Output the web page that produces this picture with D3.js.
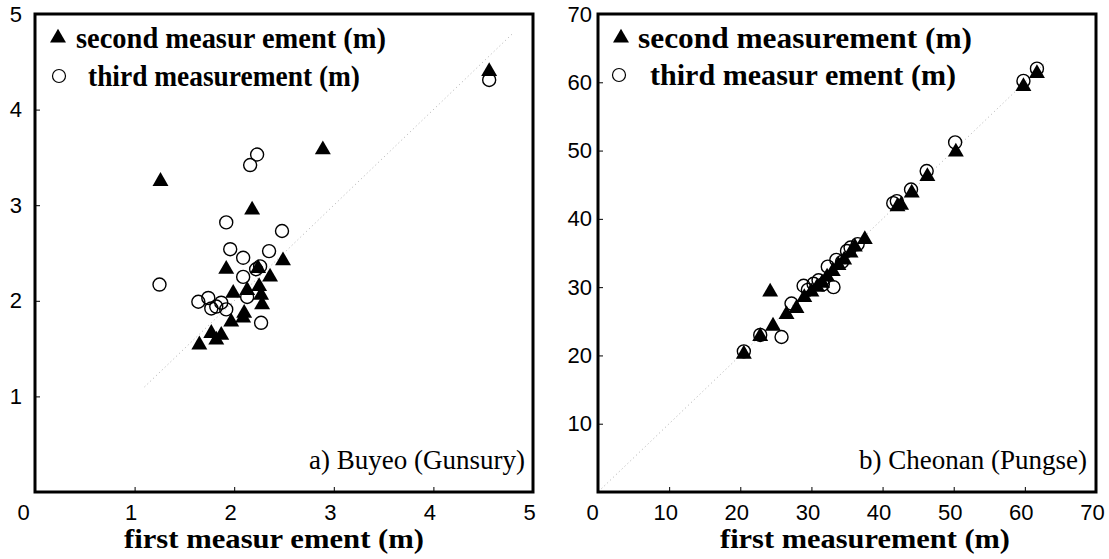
<!DOCTYPE html>
<html>
<head>
<meta charset="utf-8">
<script src="https://cdn.jsdelivr.net/npm/d3@7"></script>
<style>
body { margin: 0; background: #fff; }
</style>
</head>
<body>
<svg id="chart" width="1109" height="559"></svg>
<script>
// --- data ---
var buyeoTicks = [0, 1, 2, 3, 4, 5];
var cheonanTicks = [0, 10, 20, 30, 40, 50, 60, 70];

// a) Buyeo (Gunsury): [first, second] and [first, third]
var buyeoSecond = [
  [1.26, 3.25], [2.18, 2.95], [2.89, 3.58], [4.56, 4.40], [2.49, 2.42],
  [1.92, 2.33], [2.24, 2.34], [2.36, 2.25], [1.99, 2.08], [2.13, 2.11],
  [2.25, 2.15], [2.27, 2.06], [2.28, 1.96], [2.10, 1.87], [2.09, 1.82],
  [1.97, 1.78], [1.87, 1.64], [1.77, 1.66], [1.82, 1.59], [1.65, 1.54]
];
var buyeoThird = [
  [2.23, 3.53], [2.16, 3.42], [1.92, 2.82], [2.48, 2.73], [1.96, 2.54],
  [2.35, 2.52], [2.09, 2.45], [2.26, 2.36], [2.22, 2.33], [2.09, 2.25],
  [1.25, 2.17], [1.64, 1.99], [1.74, 2.03], [1.77, 1.92], [1.82, 1.94],
  [1.87, 1.98], [1.92, 1.91], [2.13, 2.04], [2.27, 1.77], [4.56, 4.31]
];

// b) Cheonan (Pungse)
var cheonanSecond = [
  [20.5, 20.2], [22.8, 22.8], [24.2, 29.3], [24.6, 24.3], [26.5, 26.0],
  [27.9, 26.9], [29.0, 28.5], [30.0, 29.3], [30.8, 30.0], [31.5, 30.6],
  [32.2, 31.5], [33.0, 32.3], [33.8, 33.2], [34.6, 34.0], [35.5, 35.0],
  [36.1, 35.9], [37.5, 37.0], [42.1, 41.8], [42.6, 42.0], [44.1, 43.8],
  [46.3, 46.2], [50.3, 49.8], [59.8, 59.4], [61.7, 61.3]
];
var cheonanThird = [
  [20.5, 20.6], [22.8, 23.0], [25.8, 22.7], [27.2, 27.6], [28.9, 30.2],
  [29.5, 29.6], [30.3, 30.5], [31.0, 31.0], [31.6, 30.4], [32.3, 33.0],
  [33.1, 30.0], [33.5, 34.0], [34.3, 33.7], [35.0, 35.3], [35.5, 35.8],
  [36.5, 36.3], [41.5, 42.3], [42.0, 42.6], [44.0, 44.3], [46.2, 47.0],
  [50.2, 51.2], [59.8, 60.2], [61.7, 62.0]
];

var svg = d3.select("#chart");
svg.append("rect").attr("width", 1109).attr("height", 559).attr("fill", "#fff");

var panels = [
  {
    ticks: buyeoTicks, max: 5, left: 35, right: 533, top: 14, bottom: 492,
    second: buyeoSecond, third: buyeoThird, diag: [1.1, 4.8],
    yPad: 13, zeroShift: -12,
    leg1: "second measur ement (m)", leg1X: 76, leg1W: 310,
    leg2: "third measurement (m)", leg2X: 88, leg2W: 272,
    legTri: [58, 38], legCirc: [59, 76],
    title: "first measur ement (m)", titleX: 124, titleW: 300,
    note: "a) Buyeo (Gunsury)", noteEnd: 525
  },
  {
    ticks: cheonanTicks, max: 70, left: 598, right: 1096, top: 14, bottom: 492,
    second: cheonanSecond, third: cheonanThird, diag: [0.5, 63],
    yPad: 6, zeroShift: -6,
    leg1: "second measurement (m)", leg1X: 638, leg1W: 334,
    leg2: "third measur ement (m)", leg2X: 650, leg2W: 306,
    legTri: [621, 38], legCirc: [619, 75],
    title: "first measurement (m)", titleX: 720, titleW: 290,
    note: "b) Cheonan (Pungse)", noteEnd: 1087
  }
];

var tri = d3.symbol().type(d3.symbolTriangle).size(110);
var serif = "'Liberation Serif', 'Times New Roman', serif";
var sans = "'Liberation Sans', Arial, sans-serif";

panels.forEach(function(p) {
  var x = d3.scaleLinear().domain([0, p.max]).range([p.left, p.right]);
  var y = d3.scaleLinear().domain([0, p.max]).range([p.bottom, p.top]);
  var g = svg.append("g");

  // bottom axis, short ticks pointing inwards
  var xa = g.append("g")
      .attr("transform", "translate(0," + p.bottom + ")")
      .call(d3.axisBottom(x).tickValues(p.ticks).tickFormat(d3.format("d"))
        .tickSizeInner(-5).tickSizeOuter(0).tickPadding(12));
  xa.select(".domain").remove();
  xa.selectAll("text")
      .style("font-family", sans).style("font-size", "22px")
      .attr("fill", "#000")
      .attr("dx", function(d) { return d === 0 ? p.zeroShift : -4; });

  var ya = g.append("g")
      .attr("transform", "translate(" + p.left + ",0)")
      .call(d3.axisLeft(y).tickValues(p.ticks.slice(1)).tickFormat(d3.format("d"))
        .tickSizeInner(-5).tickSizeOuter(0).tickPadding(p.yPad));
  ya.select(".domain").remove();
  ya.selectAll("text")
      .style("font-family", sans).style("font-size", "22px")
      .attr("fill", "#000");

  // dotted 1:1 line
  g.append("line")
      .attr("x1", x(p.diag[0])).attr("y1", y(p.diag[0]))
      .attr("x2", x(p.diag[1])).attr("y2", y(p.diag[1]))
      .attr("stroke", "#999").attr("stroke-width", 0.8)
      .attr("stroke-dasharray", "1,3");

  // frame
  g.append("rect")
      .attr("x", p.left).attr("y", p.top)
      .attr("width", p.right - p.left).attr("height", p.bottom - p.top)
      .attr("fill", "none").attr("stroke", "#000").attr("stroke-width", 3);

  g.selectAll(".third").data(p.third).enter()
      .append("circle")
      .attr("class", "third")
      .attr("cx", function(d) { return x(d[0]); })
      .attr("cy", function(d) { return y(d[1]); })
      .attr("r", 6.5)
      .attr("fill", "none").attr("stroke", "#000").attr("stroke-width", 1.4);

  g.selectAll(".second").data(p.second).enter()
      .append("path")
      .attr("class", "second")
      .attr("d", tri)
      .attr("transform", function(d) { return "translate(" + x(d[0]) + "," + y(d[1]) + ")"; })
      .attr("fill", "#000");

  // legend
  g.append("path").attr("d", tri)
      .attr("transform", "translate(" + p.legTri[0] + "," + p.legTri[1] + ")")
      .attr("fill", "#000");
  g.append("circle").attr("cx", p.legCirc[0]).attr("cy", p.legCirc[1]).attr("r", 6.5)
      .attr("fill", "none").attr("stroke", "#000").attr("stroke-width", 1.2);

  g.append("text").attr("x", p.leg1X).attr("y", p.legTri[1] + 10)
      .attr("textLength", p.leg1W).attr("lengthAdjust", "spacingAndGlyphs")
      .style("font-family", serif).style("font-weight", "bold").style("font-size", "29px")
      .text(p.leg1);
  g.append("text").attr("x", p.leg2X).attr("y", p.legCirc[1] + 10)
      .attr("textLength", p.leg2W).attr("lengthAdjust", "spacingAndGlyphs")
      .style("font-family", serif).style("font-weight", "bold").style("font-size", "29px")
      .text(p.leg2);

  // axis title
  g.append("text").attr("x", p.titleX).attr("y", 548)
      .attr("textLength", p.titleW).attr("lengthAdjust", "spacingAndGlyphs")
      .style("font-family", serif).style("font-weight", "bold").style("font-size", "28px")
      .text(p.title);

  // site label
  g.append("text").attr("x", p.noteEnd).attr("y", 469)
      .attr("text-anchor", "end")
      .style("font-family", serif).style("font-size", "27px")
      .text(p.note);
});
</script>
</body>
</html>
